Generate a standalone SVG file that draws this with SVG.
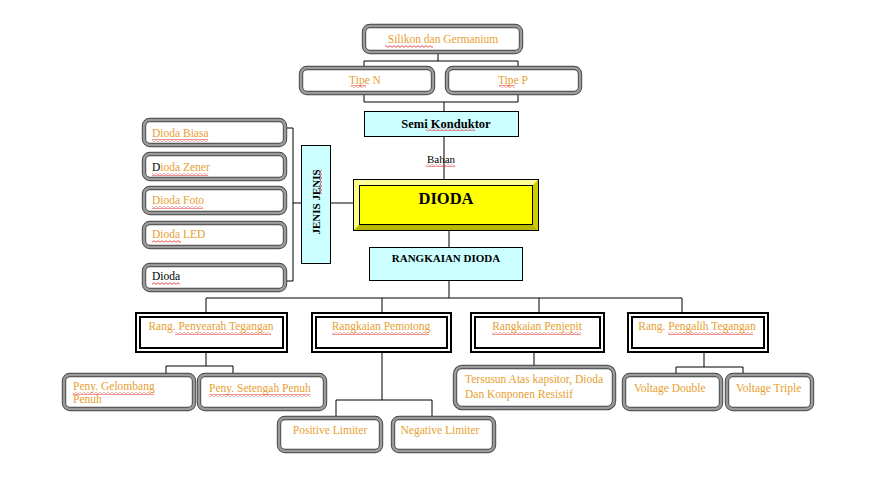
<svg xmlns="http://www.w3.org/2000/svg" width="872" height="488" viewBox="0 0 872 488">
<style>
text{font-family:"Liberation Serif","Times New Roman",serif;font-size:11.5px}
.o{fill:#E8A030}
.k{fill:#000}
.b{font-weight:bold;fill:#000}
.c{text-anchor:middle}
.rb1{fill:#fff;stroke:#444;stroke-width:4.4}
.rb2{fill:none;stroke:#9a9a9a;stroke-width:2.6}
.db1{fill:#fff;stroke:#000;stroke-width:6}
.db2{fill:none;stroke:#fff;stroke-width:2}
.cy{fill:#CCFFFF;stroke:#000;stroke-width:1}
.ln{fill:none;stroke:#000;stroke-width:1}
.sq{fill:url(#wav)}
</style>
<defs>
<pattern id="wav" width="4" height="3" patternUnits="userSpaceOnUse">
<path d="M0 2.3 L2 0.7 L4 2.3" fill="none" stroke="#e02020" stroke-width="0.8"/>
</pattern>
<clipPath id="clipG"><rect x="66" y="377" width="126" height="29"/></clipPath>
</defs>
<rect width="872" height="488" fill="#fff"/>

<g id="connectors">
<path class="ln" d="M438 53V61M364 61H518M364 61V67M518 61V67"/>
<path class="ln" d="M364 94V102H518V94M444 102V111"/>
<path class="ln" d="M444 137V179"/>
<path class="ln" d="M286 128H293V281H286M293 203H301M331 203H353"/>
<path class="ln" d="M449 231V247M449 281V298M206 298H682M206 298V313M382 298V313M539 298V313M682 298V313"/>
<path class="ln" d="M206 352V366M166 366H233M166 366V374M233 366V374"/>
<path class="ln" d="M382 352V400M336 400H432M336 400V417M432 400V417"/>
<path class="ln" d="M534 352V366"/>
<path class="ln" d="M704 352V367M676 367H743M676 367V374M743 367V374"/>
</g>

<g id="silikon">
<rect class="rb1" x="364" y="26" width="157" height="26" rx="6"/><rect class="rb2" x="364" y="26" width="157" height="26" rx="6"/>
<text class="o c" x="443" y="43">Silikon dan Germanium</text>
<rect class="sq" x="385" y="45" width="48" height="3"/>
</g>
<g id="tipeN">
<rect class="rb1" x="301" y="68" width="132" height="25" rx="6"/><rect class="rb2" x="301" y="68" width="132" height="25" rx="6"/>
<text class="o c" x="365" y="84">Tipe N</text>
<rect class="sq" x="351" y="85" width="15" height="3"/>
</g>
<g id="tipeP">
<rect class="rb1" x="447" y="68" width="133" height="25" rx="6"/><rect class="rb2" x="447" y="68" width="133" height="25" rx="6"/>
<text class="o c" x="513" y="84">Tipe P</text>
<rect class="sq" x="499" y="85" width="16" height="3"/>
</g>
<g id="semikonduktor">
<rect class="cy" x="364.5" y="111.5" width="154" height="25"/>
<text class="b c" x="446" y="128" style="font-size:12.5px">Semi Konduktor</text>
<rect class="sq" x="426" y="128" width="49" height="3"/>
</g>
<g id="bahan">
<text class="k c" x="441" y="163" style="font-size:11px">Bahan</text>
<rect class="sq" x="426" y="164" width="29" height="3"/>
</g>

<g id="dioda">
<rect x="353.5" y="179.5" width="185" height="51" fill="#FFFF00" stroke="#000"/>
<polygon points="353.5,179.5 538.5,179.5 532.5,185.5 359.5,185.5" fill="#FFFF99"/>
<polygon points="353.5,179.5 359.5,185.5 359.5,224.5 353.5,230.5" fill="#FFFF80"/>
<polygon points="538.5,179.5 532.5,185.5 532.5,224.5 538.5,230.5" fill="#CCCC00"/>
<polygon points="353.5,230.5 359.5,224.5 532.5,224.5 538.5,230.5" fill="#B8B800"/>
<rect x="353.5" y="179.5" width="185" height="51" fill="none" stroke="#000"/>
<rect x="359.5" y="185.5" width="173" height="39" fill="none" stroke="#000"/>
<text class="b c" x="446" y="204" style="font-size:16.5px">DIODA</text>
</g>

<g id="rangkaianDioda">
<rect class="cy" x="369.5" y="247.5" width="153" height="33"/>
<text class="b c" x="446" y="262" style="font-size:11px">RANGKAIAN DIODA</text>
</g>

<g id="jenis">
<rect class="cy" x="301.5" y="145.5" width="29" height="118"/>
<text class="b c" transform="translate(320 202) rotate(-90)" style="font-size:11px">JENIS JENIS</text>
<path d="M321.5 170 L320 172 L321.5 174 L320 176 L321.5 178 L320 180 L321.5 182 L320 184 L321.5 186 L320 188 L321.5 190 L320 192 L321.5 194" fill="none" stroke="#e02020" stroke-width="0.8"/>
</g>

<g id="diodaBiasa">
<rect class="rb1" x="144" y="120" width="141" height="25" rx="6"/><rect class="rb2" x="144" y="120" width="141" height="25" rx="6"/>
<text class="o" x="152" y="137">Dioda Biasa</text>
<rect class="sq" x="152" y="139" width="56" height="3"/>
</g>
<g id="diodaZener">
<rect class="rb1" x="144" y="154" width="141" height="25" rx="6"/><rect class="rb2" x="144" y="154" width="141" height="25" rx="6"/>
<text class="o" x="152" y="171"><tspan class="k">D</tspan>ioda Zener</text>
<rect class="sq" x="152" y="173" width="56" height="3"/>
</g>
<g id="diodaFoto">
<rect class="rb1" x="144" y="188" width="141" height="25" rx="6"/><rect class="rb2" x="144" y="188" width="141" height="25" rx="6"/>
<text class="o" x="152" y="204">Dioda Foto</text>
<rect class="sq" x="152" y="206" width="51" height="3"/>
</g>
<g id="diodaLED">
<rect class="rb1" x="144" y="223" width="141" height="24" rx="6"/><rect class="rb2" x="144" y="223" width="141" height="24" rx="6"/>
<text class="o" x="152" y="238">Dioda LED</text>
<rect class="sq" x="152" y="240" width="29" height="3"/>
</g>
<g id="diodaPlain">
<rect class="rb1" x="144" y="265" width="141" height="25" rx="6"/><rect class="rb2" x="144" y="265" width="141" height="25" rx="6"/>
<text class="k" x="152" y="280">Dioda</text>
<rect class="sq" x="152" y="282" width="28" height="3"/>
</g>

<g id="penyearah">
<rect class="db1" x="138" y="315" width="147" height="35"/><rect class="db2" x="138" y="315" width="147" height="35"/>
<text class="o c" x="211" y="330">Rang. Penyearah Tegangan</text>
<rect class="sq" x="175" y="332" width="96" height="3"/>
</g>
<g id="pemotong">
<rect class="db1" x="314" y="315" width="135" height="35"/><rect class="db2" x="314" y="315" width="135" height="35"/>
<text class="o c" x="381" y="330">Rangkaian Pemotong</text>
<rect class="sq" x="332" y="332" width="97" height="3"/>
</g>
<g id="penjepit">
<rect class="db1" x="473" y="315" width="129" height="35"/><rect class="db2" x="473" y="315" width="129" height="35"/>
<text class="o c" x="537" y="330">Rangkaian Penjepit</text>
<rect class="sq" x="492" y="332" width="89" height="3"/>
</g>
<g id="pengalih">
<rect class="db1" x="630" y="315" width="136" height="35"/><rect class="db2" x="630" y="315" width="136" height="35"/>
<text class="o c" x="697" y="330">Rang. Pengalih Tegangan</text>
<rect class="sq" x="668" y="332" width="85" height="3"/>
</g>

<g id="gelombang">
<rect class="rb1" x="64" y="375" width="130" height="34" rx="6"/><rect class="rb2" x="64" y="375" width="130" height="34" rx="6"/>
<g clip-path="url(#clipG)">
<text class="o" x="73" y="390">Peny. Gelombang</text>
<text class="o" x="73" y="403">Penuh</text>
</g>
<rect class="sq" x="73" y="392" width="81" height="3"/>
</g>
<g id="setengah">
<rect class="rb1" x="199" y="375" width="126" height="34" rx="6"/><rect class="rb2" x="199" y="375" width="126" height="34" rx="6"/>
<text class="o" x="209" y="392">Peny. Setengah Penuh</text>
<rect class="sq" x="209" y="394" width="101" height="3"/>
</g>
<g id="positive">
<rect class="rb1" x="279" y="418" width="102" height="33" rx="6"/><rect class="rb2" x="279" y="418" width="102" height="33" rx="6"/>
<text class="o c" x="330" y="434">Positive Limiter</text>
</g>
<g id="negative">
<rect class="rb1" x="393" y="418" width="101" height="33" rx="6"/><rect class="rb2" x="393" y="418" width="101" height="33" rx="6"/>
<text class="o c" x="440" y="434">Negative Limiter</text>
</g>
<g id="tersusun">
<rect class="rb1" x="455" y="367" width="159" height="41" rx="7"/><rect class="rb2" x="455" y="367" width="159" height="41" rx="7"/>
<text class="o" x="465" y="383">Tersusun Atas kapsitor, Dioda</text>
<text class="o" x="465" y="398">Dan Konponen Resistif</text>
</g>
<g id="double">
<rect class="rb1" x="624" y="375" width="97" height="34" rx="6"/><rect class="rb2" x="624" y="375" width="97" height="34" rx="6"/>
<text class="o" x="634" y="392">Voltage Double</text>
</g>
<g id="triple">
<rect class="rb1" x="727" y="375" width="85" height="34" rx="6"/><rect class="rb2" x="727" y="375" width="85" height="34" rx="6"/>
<text class="o" x="736" y="392">Voltage Triple</text>
</g>
</svg>
